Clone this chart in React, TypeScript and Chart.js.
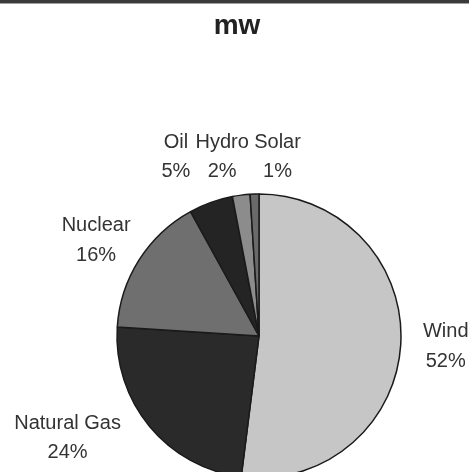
import React, { useEffect, useRef } from "react";
import { Chart, registerables } from "chart.js";

Chart.register(...registerables);

const titleText = "mw";
const categories = ["Wind", "Natural Gas", "Nuclear", "Oil", "Hydro", "Solar"];
const shares = [52, 24, 16, 5, 2, 1];
const percentLabels = ["52%", "24%", "16%", "5%", "2%", "1%"];
const sliceColors = ["#c6c6c6", "#2a2a2a", "#6f6f6f", "#242424", "#8c8c8c", "#6a6a6a"];
// label nudges (px) from each slice's outer mid-point, Excel-style placement
const labelNudges: [number, number][] = [
  [45, 0],
  [-82, 10],
  [-43, -21],
  [-35, -47],
  [-19, -40],
  [23, -39],
];

const W = 469;
const H = 480;

const decorPlugin = {
  id: "decor",
  afterDraw(chart: any) {
    const ctx = chart.ctx as CanvasRenderingContext2D;
    ctx.save();
    // top rule (edge of table above the chart)
    ctx.fillStyle = "#3a3a3a";
    ctx.fillRect(0, 0, W, 3);
    ctx.fillStyle = "#a0a0a0";
    ctx.fillRect(0, 3, W, 1);
    // title
    ctx.fillStyle = "#222";
    ctx.font = "bold 28px Arial, 'Liberation Sans', sans-serif";
    ctx.textAlign = "center";
    ctx.textBaseline = "alphabetic";
    ctx.fillText(titleText, 237, 34);
    // data labels
    const meta = chart.getDatasetMeta(0);
    ctx.font = "20px Arial, 'Liberation Sans', sans-serif";
    ctx.fillStyle = "#333";
    meta.data.forEach((arc: any, i: number) => {
      const p = arc.getProps(["x", "y", "startAngle", "endAngle", "outerRadius"], true);
      const mid = (p.startAngle + p.endAngle) / 2;
      const ex = p.x + Math.cos(mid) * p.outerRadius;
      const ey = p.y + Math.sin(mid) * p.outerRadius;
      const cx = ex + labelNudges[i][0];
      const cy = ey + labelNudges[i][1];
      ctx.fillText(categories[i], cx, cy - 14.75 + 7.2);
      ctx.fillText(percentLabels[i], cx, cy + 14.75 + 7.2);
    });
    ctx.restore();
  },
};

export default function App() {
  const ref = useRef<HTMLCanvasElement | null>(null);
  useEffect(() => {
    if (!ref.current) return;
    const chart = new Chart(ref.current, {
      type: "pie",
      data: {
        labels: categories,
        datasets: [
          {
            data: shares,
            backgroundColor: sliceColors,
            borderColor: "#1a1a1a",
            borderWidth: 1.5,
          },
        ],
      },
      options: {
        responsive: false,
        animation: false,
        layout: {
          padding: { left: 116.25, right: 67.25, top: 193.25, bottom: 1.25 },
        },
        plugins: {
          legend: { display: false },
          tooltip: { enabled: false },
          title: { display: false },
        },
      },
      plugins: [decorPlugin],
    });
    return () => chart.destroy();
  }, []);
  return (
    <div style={{ position: "fixed", left: 0, top: 0, width: W, height: H, background: "#fff" }}>
      <canvas ref={ref} width={W} height={H} style={{ display: "block" }} />
    </div>
  );
}
